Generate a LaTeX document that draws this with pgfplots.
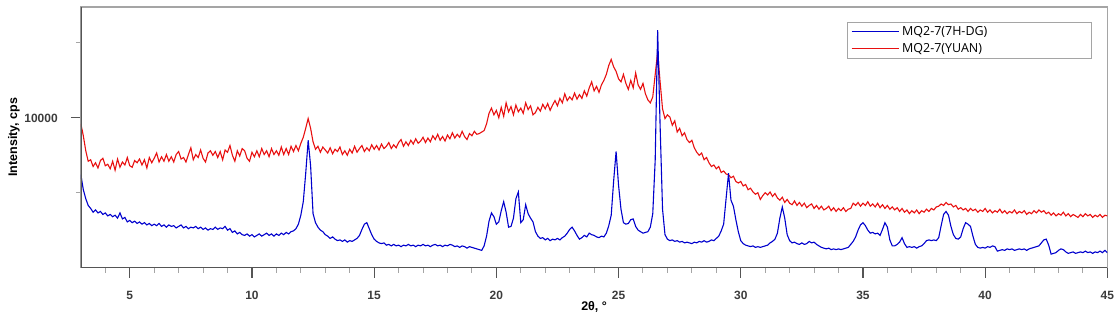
\documentclass[border=0pt]{standalone}
\usepackage{pgfplots}
\pgfplotsset{compat=1.18}
\usepackage{fontspec}
\setmainfont{Liberation Sans}
\newfontfamily\legfont{Open Sans}
\definecolor{xrdblue}{RGB}{0,0,205}
\definecolor{xrdred}{RGB}{232,16,16}
\definecolor{axdark}{RGB}{85,85,85}
\definecolor{axlight}{RGB}{165,165,165}
\definecolor{labgray}{RGB}{60,60,60}
\begin{document}
\begin{tikzpicture}
\begin{axis}[
  name=ax,
  scale only axis, width=1028pt, height=261pt,
  xmin=3, xmax=45, ymin=0, ymax=17400,
  xtick={5,10,...,45}, minor xtick={4,...,44},
  ytick={10000}, minor ytick={5000,15000},
  scaled y ticks=false,
  xtick pos=left, ytick pos=left,
  tick align=outside, major tick length=10pt, minor tick length=5pt,
  major tick style={axdark, line width=1.2pt},
  minor tick style={axlight, line width=1pt},
  axis line style={axlight, line width=1.2pt},
  /pgf/number format/assume math mode=true,
  /pgf/number format/set thousands separator={},
  tick label style={font=\fontsize{12}{14}\selectfont\bfseries, text=labgray, inner sep=0pt},
  xticklabel style={anchor=base, yshift=-22pt},
  yticklabel style={anchor=base east, xshift=-13pt, yshift=-4.3pt},
  xlabel={2θ, °}, ylabel={Intensity, cps},
  label style={font=\fontsize{12.5}{14}\selectfont\bfseries, text=black},
  xlabel style={at={(axis description cs:0.5,-0.1494)}, anchor=center},
  ylabel style={at={(axis description cs:-0.0652,0.5)}, anchor=center},
  legend style={at={(rel axis cs:1,1)}, anchor=north east, xshift=-15pt, yshift=-15pt,
    draw=axlight, line width=1pt, font=\legfont\fontsize{12.5}{14}\selectfont,
    inner xsep=3pt, inner ysep=2pt, row sep=2.5pt},
  legend cell align=left,
  every axis plot/.append style={line width=1.1pt},
]
\addlegendimage{legend image code/.code={\draw[xrdblue, line width=1.4pt] (0pt,0pt) -- (48pt,0pt);}}
\addlegendentry{\makebox[185pt][l]{MQ2-7(7H-DG)}}
\addlegendimage{legend image code/.code={\draw[xrdred, line width=1.4pt] (0pt,0pt) -- (48pt,0pt);}}
\addlegendentry{\makebox[185pt][l]{MQ2-7(YUAN)}}
\addplot[xrdred, forget plot] table[row sep=\\] {
x y\\
3.0 9600\\3.1 8800\\3.2 7800\\3.3 7100\\3.4 7200\\3.5 6750\\3.6 7000\\3.7 6650\\3.8 7150\\3.9 7300\\
4.0 6800\\4.1 6900\\4.2 6600\\4.3 7100\\4.4 6500\\4.5 7250\\4.6 6700\\4.7 7050\\4.8 6850\\4.9 7350\\
5.0 6800\\5.1 6700\\5.2 7150\\5.3 7000\\5.4 7250\\5.5 6850\\5.6 7200\\5.7 6650\\5.8 7350\\5.9 7000\\
6.0 7300\\6.1 7650\\6.2 7050\\6.3 7400\\6.4 7100\\6.5 7550\\6.6 7100\\6.7 7400\\6.8 7050\\6.9 7550\\
7.0 7750\\7.1 7250\\7.2 7350\\7.3 7050\\7.4 7550\\7.5 8000\\7.6 7200\\7.7 7550\\7.8 7350\\7.9 7850\\
8.0 7300\\8.1 7050\\8.2 7650\\8.3 7800\\8.4 7500\\8.5 7750\\8.6 7350\\8.7 7750\\8.8 7200\\8.9 7850\\
9.0 7700\\9.1 8150\\9.2 7500\\9.3 7100\\9.4 7800\\9.5 7450\\9.6 7950\\9.7 7800\\9.8 7300\\9.9 7100\\
10.0 7700\\10.1 7400\\10.2 7800\\10.3 7400\\10.4 7950\\10.5 7550\\10.6 7800\\10.7 7400\\10.8 7950\\10.9 7550\\
11.0 7800\\11.1 7500\\11.2 8050\\11.3 7550\\11.4 7950\\11.5 7550\\11.6 8100\\11.7 7750\\11.8 8150\\11.9 7800\\
12.0 8300\\12.1 8700\\12.2 9300\\12.3 9950\\12.4 9300\\12.5 8400\\12.6 7900\\12.7 8100\\12.8 7700\\12.9 8050\\
13.0 7850\\13.1 7650\\13.2 8000\\13.3 7600\\13.4 7900\\13.5 7750\\13.6 8050\\13.7 7550\\13.8 7800\\13.9 7500\\
14.0 7900\\14.1 7650\\14.2 8100\\14.3 7700\\14.4 7950\\14.5 8150\\14.6 7750\\14.7 8000\\14.8 7800\\14.9 8200\\
15.0 7900\\15.1 8150\\15.2 7850\\15.3 8250\\15.4 7950\\15.5 8100\\15.6 8350\\15.7 7950\\15.8 8200\\15.9 8000\\
16.0 8350\\16.1 8550\\16.2 8100\\16.3 8400\\16.4 8150\\16.5 8500\\16.6 8250\\16.7 8600\\16.8 8300\\16.9 8450\\
17.0 8700\\17.1 8350\\17.2 8650\\17.3 8400\\17.4 8800\\17.5 8550\\17.6 8900\\17.7 8500\\17.8 8750\\17.9 8450\\
18.0 8850\\18.1 8600\\18.2 9000\\18.3 8650\\18.4 8900\\18.5 8700\\18.6 9100\\18.7 8750\\18.8 8550\\18.9 8950\\
19.0 8800\\19.1 9100\\19.2 8900\\19.3 8950\\19.4 9050\\19.5 9150\\19.6 9600\\19.7 10300\\19.8 10650\\19.9 10200\\
20.0 10500\\20.1 10000\\20.2 10700\\20.3 10100\\20.4 11000\\20.5 10400\\20.6 10750\\20.7 10200\\20.8 10850\\20.9 10400\\
21.0 10650\\21.1 10300\\21.2 11000\\21.3 10550\\21.4 10800\\21.5 10200\\21.6 10350\\21.7 10700\\21.8 10450\\21.9 10900\\
22.0 10600\\22.1 10950\\22.2 10500\\22.3 10850\\22.4 11150\\22.5 10800\\22.6 11300\\22.7 11000\\22.8 11600\\22.9 11150\\
23.0 11400\\23.1 11200\\23.2 11650\\23.3 11250\\23.4 11550\\23.5 11300\\23.6 11800\\23.7 11450\\23.8 12000\\23.9 12400\\
24.0 11800\\24.1 12100\\24.2 11700\\24.3 12200\\24.4 12500\\24.5 12900\\24.6 13500\\24.7 13900\\24.8 13400\\24.9 13100\\
25.0 12600\\25.1 12400\\25.2 12900\\25.3 12300\\25.4 11900\\25.5 12500\\25.6 12000\\25.7 13000\\25.8 12200\\25.9 11900\\
26.0 12300\\26.1 11600\\26.2 11200\\26.3 11000\\26.4 11400\\26.5 12900\\26.6 14400\\26.7 12400\\26.8 10600\\26.9 9950\\
27.0 10200\\27.1 10050\\27.2 9500\\27.3 9800\\27.4 9050\\27.5 9300\\27.6 8800\\27.7 9000\\27.8 8550\\27.9 8350\\
28.0 8500\\28.1 8000\\28.2 7700\\28.3 7500\\28.4 7650\\28.5 7200\\28.6 7350\\28.7 7000\\28.8 6750\\28.9 6850\\
29.0 6600\\29.1 6750\\29.2 6350\\29.3 6450\\29.4 6250\\29.5 6200\\29.6 6000\\29.7 6100\\29.8 5750\\29.9 5650\\
30.0 5750\\30.1 5450\\30.2 5550\\30.3 5200\\30.4 5300\\30.5 5050\\30.6 4900\\30.7 5000\\30.8 4550\\30.9 4800\\
31.0 5000\\31.1 4850\\31.2 5050\\31.3 4750\\31.4 4950\\31.5 4650\\31.6 4500\\31.7 4700\\31.8 4350\\31.9 4550\\
32.0 4300\\32.1 4200\\32.2 4450\\32.3 4150\\32.4 4350\\32.5 4100\\32.6 4300\\32.7 4000\\32.8 4150\\32.9 4250\\
33.0 3950\\33.1 4150\\33.2 3900\\33.3 4100\\33.4 3850\\33.5 3950\\33.6 4100\\33.7 3800\\33.8 4000\\33.9 3750\\
34.0 3950\\34.1 3800\\34.2 4000\\34.3 3750\\34.4 3900\\34.5 3950\\34.6 4300\\34.7 4150\\34.8 4350\\34.9 4100\\
35.0 4300\\35.1 4150\\35.2 4400\\35.3 4100\\35.4 4250\\35.5 4050\\35.6 4300\\35.7 4000\\35.8 4200\\35.9 3950\\
36.0 4150\\36.1 3900\\36.2 4050\\36.3 3850\\36.4 4000\\36.5 3750\\36.6 3950\\36.7 3700\\36.8 3850\\36.9 3600\\
37.0 3800\\37.1 3650\\37.2 3850\\37.3 3600\\37.4 3800\\37.5 3700\\37.6 3900\\37.7 3750\\37.8 3950\\37.9 3850\\
38.0 4050\\38.1 4100\\38.2 4250\\38.3 4150\\38.4 4350\\38.5 4200\\38.6 4250\\38.7 4050\\38.8 4150\\38.9 3900\\
39.0 4000\\39.1 3850\\39.2 3950\\39.3 3750\\39.4 3950\\39.5 3800\\39.6 3900\\39.7 3700\\39.8 3850\\39.9 3750\\
40.0 3950\\40.1 3700\\40.2 3850\\40.3 3650\\40.4 3800\\40.5 3700\\40.6 3900\\40.7 3650\\40.8 3800\\40.9 3600\\
41.0 3750\\41.1 3650\\41.2 3850\\41.3 3600\\41.4 3750\\41.5 3650\\41.6 3800\\41.7 3550\\41.8 3700\\41.9 3600\\
42.0 3800\\42.1 3650\\42.2 3850\\42.3 3700\\42.4 3800\\42.5 3600\\42.6 3700\\42.7 3500\\42.8 3650\\42.9 3450\\
43.0 3600\\43.1 3500\\43.2 3700\\43.3 3450\\43.4 3600\\43.5 3400\\43.6 3550\\43.7 3450\\43.8 3350\\43.9 3550\\
44.0 3400\\44.1 3600\\44.2 3450\\44.3 3550\\44.4 3350\\44.5 3500\\44.6 3400\\44.7 3550\\44.8 3350\\44.9 3500\\
45.0 3450\\
};
\addplot[xrdblue, forget plot] table[row sep=\\] {
x y\\
3.0 6200\\3.1 5200\\3.2 4600\\3.3 4150\\3.4 3950\\3.5 3700\\3.6 3850\\3.7 3650\\3.8 3750\\3.9 3550\\
4.0 3650\\4.1 3450\\4.2 3550\\4.3 3400\\4.4 3500\\4.5 3300\\4.6 3650\\4.7 3250\\4.8 3350\\4.9 3050\\
5.0 3150\\5.1 3000\\5.2 3100\\5.3 2950\\5.4 3050\\5.5 2900\\5.6 3000\\5.7 2850\\5.8 2950\\5.9 2800\\
6.0 2900\\6.1 2800\\6.2 2950\\6.3 2750\\6.4 2850\\6.5 2700\\6.6 2850\\6.7 2750\\6.8 2800\\6.9 2650\\
7.0 2750\\7.1 2850\\7.2 2650\\7.3 2750\\7.4 2600\\7.5 2700\\7.6 2650\\7.7 2750\\7.8 2600\\7.9 2700\\
8.0 2550\\8.1 2650\\8.2 2500\\8.3 2600\\8.4 2550\\8.5 2700\\8.6 2550\\8.7 2650\\8.8 2600\\8.9 2750\\
9.0 2500\\9.1 2600\\9.2 2350\\9.3 2450\\9.4 2250\\9.5 2350\\9.6 2200\\9.7 2150\\9.8 2250\\9.9 2100\\
10.0 2200\\10.1 2050\\10.2 2150\\10.3 2250\\10.4 2100\\10.5 2200\\10.6 2300\\10.7 2150\\10.8 2250\\10.9 2100\\
11.0 2250\\11.1 2150\\11.2 2300\\11.3 2200\\11.4 2350\\11.5 2250\\11.6 2400\\11.7 2450\\11.8 2600\\11.9 2900\\
12.0 3500\\12.1 4400\\12.2 6300\\12.3 8500\\12.4 6800\\12.5 3600\\12.6 3000\\12.7 2700\\12.8 2500\\12.9 2400\\
13.0 2200\\13.1 2100\\13.2 1950\\13.3 2050\\13.4 1900\\13.5 1800\\13.6 1850\\13.7 1750\\13.8 1850\\13.9 1700\\
14.0 1800\\14.1 1750\\14.2 1850\\14.3 1950\\14.4 2150\\14.5 2550\\14.6 2900\\14.7 3000\\14.8 2600\\14.9 2200\\
15.0 1900\\15.1 1750\\15.2 1650\\15.3 1600\\15.4 1650\\15.5 1500\\15.6 1550\\15.7 1450\\15.8 1550\\15.9 1450\\
16.0 1500\\16.1 1400\\16.2 1500\\16.3 1450\\16.4 1550\\16.5 1450\\16.6 1500\\16.7 1400\\16.8 1500\\16.9 1450\\
17.0 1550\\17.1 1450\\17.2 1500\\17.3 1400\\17.4 1500\\17.5 1550\\17.6 1450\\17.7 1500\\17.8 1400\\17.9 1500\\
18.0 1450\\18.1 1550\\18.2 1500\\18.3 1400\\18.4 1450\\18.5 1350\\18.6 1450\\18.7 1400\\18.8 1300\\18.9 1400\\
19.0 1350\\19.1 1300\\19.2 1250\\19.3 1200\\19.4 1150\\19.5 1450\\19.6 2100\\19.7 3100\\19.8 3650\\19.9 3400\\
20.0 2900\\20.1 3050\\20.2 3800\\20.3 4400\\20.4 3700\\20.5 2700\\20.6 2750\\20.7 3300\\20.8 4600\\20.9 5050\\
21.0 3000\\21.1 3200\\21.2 4200\\21.3 3600\\21.4 3300\\21.5 3050\\21.6 2400\\21.7 2100\\21.8 1950\\21.9 2000\\
22.0 1850\\22.1 1950\\22.2 1800\\22.3 1900\\22.4 1850\\22.5 1950\\22.6 1850\\22.7 2000\\22.8 2100\\22.9 2300\\
23.0 2550\\23.1 2700\\23.2 2450\\23.3 2150\\23.4 1900\\23.5 2000\\23.6 2150\\23.7 2050\\23.8 2300\\23.9 2200\\
24.0 2150\\24.1 2050\\24.2 2000\\24.3 2100\\24.4 2050\\24.5 2300\\24.6 2800\\24.7 3500\\24.8 5800\\24.9 7750\\
25.0 5500\\25.1 3900\\25.2 3000\\25.3 2900\\25.4 2950\\25.5 3200\\25.6 3250\\25.7 2750\\25.8 2500\\25.9 2400\\
26.0 2300\\26.1 2350\\26.2 2400\\26.3 2700\\26.4 3600\\26.5 7200\\26.6 15850\\26.7 9500\\26.8 3900\\26.9 2200\\
27.0 1900\\27.1 1800\\27.2 1850\\27.3 1750\\27.4 1800\\27.5 1700\\27.6 1750\\27.7 1650\\27.8 1700\\27.9 1650\\
28.0 1600\\28.1 1700\\28.2 1650\\28.3 1750\\28.4 1700\\28.5 1800\\28.6 1700\\28.7 1750\\28.8 1850\\28.9 1800\\
29.0 1950\\29.1 2100\\29.2 2450\\29.3 2900\\29.4 4600\\29.5 6300\\29.6 4500\\29.7 4100\\29.8 3200\\29.9 2400\\
30.0 1800\\30.1 1600\\30.2 1500\\30.3 1450\\30.4 1400\\30.5 1450\\30.6 1350\\30.7 1400\\30.8 1350\\30.9 1400\\
31.0 1450\\31.1 1500\\31.2 1650\\31.3 1750\\31.4 1900\\31.5 2300\\31.6 3300\\31.7 4050\\31.8 3300\\31.9 2200\\
32.0 1800\\32.1 1650\\32.2 1700\\32.3 1600\\32.4 1550\\32.5 1650\\32.6 1550\\32.7 1600\\32.8 1750\\32.9 1650\\
33.0 1700\\33.1 1550\\33.2 1450\\33.3 1350\\33.4 1300\\33.5 1250\\33.6 1300\\33.7 1200\\33.8 1250\\33.9 1200\\
34.0 1250\\34.1 1200\\34.2 1250\\34.3 1300\\34.4 1350\\34.5 1550\\34.6 1750\\34.7 2050\\34.8 2500\\34.9 2850\\
35.0 3000\\35.1 2800\\35.2 2500\\35.3 2300\\35.4 2350\\35.5 2250\\35.6 2300\\35.7 2150\\35.8 2550\\35.9 3000\\
36.0 2700\\36.1 1850\\36.2 1450\\36.3 1450\\36.4 1550\\36.5 1700\\36.6 2000\\36.7 1600\\36.8 1350\\36.9 1400\\
37.0 1350\\37.1 1400\\37.2 1300\\37.3 1400\\37.4 1450\\37.5 1600\\37.6 1800\\37.7 1850\\37.8 1800\\37.9 1850\\
38.0 1800\\38.1 2000\\38.2 2800\\38.3 3550\\38.4 3750\\38.5 3500\\38.6 2750\\38.7 2200\\38.8 1950\\38.9 1900\\
39.0 2050\\39.1 2600\\39.2 3000\\39.3 2900\\39.4 2750\\39.5 2100\\39.6 1550\\39.7 1350\\39.8 1300\\39.9 1350\\
40.0 1300\\40.1 1400\\40.2 1350\\40.3 1450\\40.4 1400\\40.5 1100\\40.6 1150\\40.7 1200\\40.8 1150\\40.9 1250\\
41.0 1200\\41.1 1250\\41.2 1150\\41.3 1200\\41.4 1250\\41.5 1200\\41.6 1250\\41.7 1150\\41.8 1250\\41.9 1300\\
42.0 1350\\42.1 1400\\42.2 1450\\42.3 1650\\42.4 1850\\42.5 1900\\42.6 1500\\42.7 900\\42.8 950\\42.9 1000\\
43.0 1150\\43.1 1250\\43.2 1200\\43.3 1050\\43.4 950\\43.5 1000\\43.6 1050\\43.7 950\\43.8 1000\\43.9 1050\\
44.0 1000\\44.1 1100\\44.2 1000\\44.3 1050\\44.4 950\\44.5 1050\\44.6 1000\\44.7 1100\\44.8 1000\\44.9 1150\\
45.0 1000\\
};
\draw[axdark, line width=2pt] (rel axis cs:0,1) -- (rel axis cs:0,0) -- (rel axis cs:1,0);
\end{axis}
\path ([xshift=-81pt,yshift=-53pt]ax.south west) rectangle ([xshift=5pt,yshift=7pt]ax.north east);
\end{tikzpicture}
\end{document}
